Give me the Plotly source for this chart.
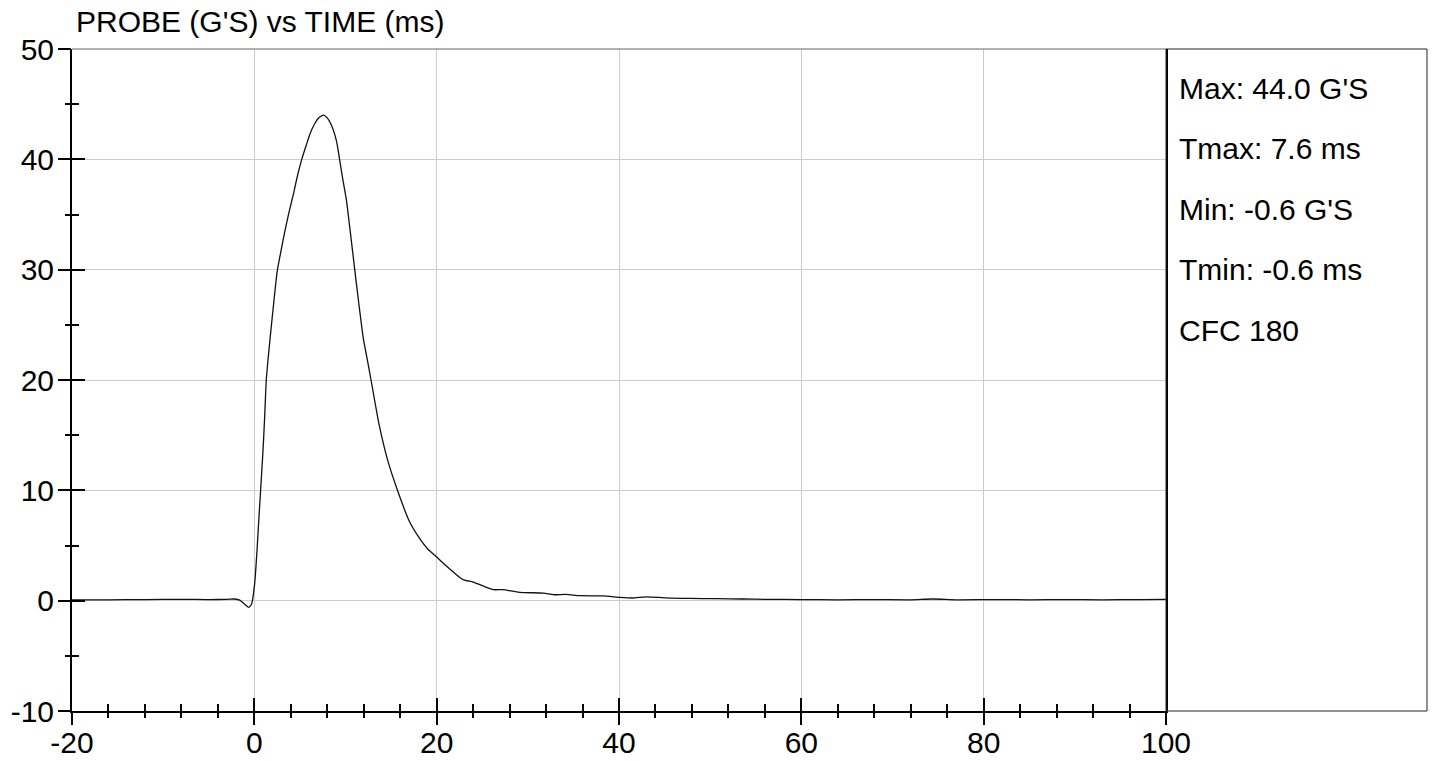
import plotly.graph_objects as go

# ---- data ----
time_ms = [-20, -16, -12, -8, -5, -3, -2.2, -1.6, -1.1, -0.63, -0.3, 0.03, 0.29, 0.51, 0.69,
           0.95, 1.13, 1.31, 1.6, 2.04, 2.5, 2.9, 3.3, 3.8, 4.3, 4.7, 5.2, 5.7, 6.1, 6.6,
           7.0, 7.3, 7.6, 7.95, 8.4, 9.0, 9.35, 9.7, 10.1, 10.5, 11.0, 11.45, 11.95, 12.4,
           12.8, 13.7, 14.6, 15.7, 17.0, 18.0, 19.0, 20.0, 21.4, 22.9, 24.0, 25.2, 26.2,
           27.3, 29.1, 31.7, 32.8, 34.2, 35.7, 38.2, 40.1, 41.5, 43.0, 45.2, 47.7, 50.7,
           53.5, 56.2, 60, 64, 68, 72, 74.4, 77, 81, 85, 89, 93, 97, 100]
probe_g = [0.08, 0.08, 0.1, 0.12, 0.1, 0.12, 0.15, 0.05, -0.3, -0.6, -0.3, 1.5, 4.5, 7.6, 10.0,
           13.6, 16.6, 20.0, 22.7, 26.3, 29.8, 31.6, 33.3, 35.2, 36.9, 38.4, 40.0, 41.3, 42.3, 43.2,
           43.7, 43.9, 44.0, 43.8, 43.2, 41.7, 40.0, 38.2, 36.3, 33.6, 30.1, 27.0, 23.8, 21.8,
           20.0, 15.9, 12.8, 10.0, 7.2, 5.8, 4.7, 3.95, 2.9, 1.9, 1.69, 1.3, 1.0,
           1.0, 0.75, 0.69, 0.54, 0.57, 0.45, 0.43, 0.3, 0.24, 0.35, 0.25, 0.2, 0.18,
           0.15, 0.12, 0.1, 0.08, 0.1, 0.08, 0.15, 0.08, 0.1, 0.08, 0.1, 0.08, 0.1, 0.12]

title_text = "PROBE (G'S) vs TIME (ms)"
x_range = [-20, 100]
y_range = [-10, 50]
x_ticks = [-20, 0, 20, 40, 60, 80, 100]
y_ticks = [-10, 0, 10, 20, 30, 40, 50]
x_tick_labels = ["-20", "0", "20", "40", "60", "80", "100"]
y_tick_labels = ["-10", "0", "10", "20", "30", "40", "50"]
cfc_label = "CFC 180"

i_max = max(range(len(probe_g)), key=lambda i: probe_g[i])
i_min = min(range(len(probe_g)), key=lambda i: probe_g[i])
stats_labels = [
    f"Max: {probe_g[i_max]:.1f} G'S",
    f"Tmax: {time_ms[i_max]:.1f} ms",
    f"Min: {probe_g[i_min]:.1f} G'S",
    f"Tmin: {time_ms[i_min]:.1f} ms",
    cfc_label,
]

FONT = "Liberation Sans, Arial, sans-serif"
FS = 30

W, H = 1433, 761
L, R, T, B = 72, 267, 49, 50
plot_w = W - L - R
plot_h = H - T - B

fig = go.Figure()
fig.add_trace(go.Scatter(x=time_ms, y=probe_g, mode="lines",
                         line=dict(color="#111111", width=1.3, shape="spline", smoothing=0.6),
                         hoverinfo="x+y", showlegend=False))
# dummy trace to activate the overlay axes (second half of the crossing ticks)
fig.add_trace(go.Scatter(x=[None], y=[None], xaxis="x2", yaxis="y2",
                         mode="lines", showlegend=False, hoverinfo="skip"))

axis_common = dict(zeroline=False, fixedrange=True, automargin=False)
tick_style = dict(ticklen=13, tickwidth=1.5, tickcolor="black")
fig.update_layout(
    width=W, height=H,
    margin=dict(l=L, r=R, t=T, b=B, autoexpand=False),
    paper_bgcolor="white", plot_bgcolor="white",
    font=dict(family=FONT, size=FS, color="black"),
    showlegend=False,
    # axes carrying labels: inside ticks (labels placed with a standoff)
    xaxis=dict(range=x_range, tickmode="array", tickvals=x_ticks, ticktext=x_tick_labels,
               showgrid=True, gridcolor="#cccccc", gridwidth=1,
               showline=True, linecolor="black", linewidth=2,
               ticks="inside", ticklabelstandoff=4, **tick_style,
               tickfont=dict(family=FONT, size=FS, color="black"),
               minor=dict(tickmode="linear", tick0=0, dtick=4, ticks="inside", ticklen=7,
                          tickwidth=1.5, tickcolor="black", showgrid=False),
               **axis_common),
    yaxis=dict(range=y_range, tickmode="array", tickvals=y_ticks, ticktext=y_tick_labels,
               showgrid=True, gridcolor="#cccccc", gridwidth=1,
               showline=True, linecolor="black", linewidth=2, mirror=True,
               ticks="inside", ticklabelstandoff=10, **tick_style,
               tickfont=dict(family=FONT, size=FS, color="black"),
               minor=dict(tickmode="linear", tick0=0, dtick=5, ticks="inside", ticklen=7,
                          tickwidth=1.5, tickcolor="black", showgrid=False),
               **axis_common),
    xaxis2=dict(range=x_range, overlaying="x", anchor="y2", side="bottom",
                tickmode="array", tickvals=x_ticks,
                showgrid=False, showline=False, showticklabels=False,
                ticks="outside", **tick_style,
                minor=dict(tickmode="linear", tick0=0, dtick=4, ticks="outside", ticklen=6,
                           tickwidth=1.5, tickcolor="black", showgrid=False),
                **axis_common),
    yaxis2=dict(range=y_range, overlaying="y", anchor="x2", side="left",
                tickmode="array", tickvals=y_ticks,
                showgrid=False, showline=False, showticklabels=False,
                ticks="outside", **tick_style,
                minor=dict(tickmode="linear", tick0=0, dtick=5, ticks="outside", ticklen=6,
                           tickwidth=1.5, tickcolor="black", showgrid=False),
                **axis_common),
)

def px_to_paper_x(px):
    return (px - L) / plot_w

def px_to_paper_y(py):
    return (H - B - py) / plot_h

# plot top border and info panel
fig.add_shape(type="line", xref="paper", yref="paper", x0=0, x1=1, y0=1, y1=1,
              line=dict(color="#666666", width=1))
fig.add_shape(type="rect", xref="paper", yref="paper",
              x0=1, x1=px_to_paper_x(1427), y0=0, y1=1,
              line=dict(color="#222222", width=1))

# title
fig.add_annotation(text=title_text, xref="paper", yref="paper",
                   x=px_to_paper_x(74), y=px_to_paper_y(22),
                   xanchor="left", yanchor="middle", showarrow=False,
                   font=dict(family=FONT, size=FS, color="black"))

# panel stats
panel_y = [88.5, 148.5, 209, 269.5, 330]
for label, py in zip(stats_labels, panel_y):
    fig.add_annotation(text=label, xref="paper", yref="paper",
                       x=px_to_paper_x(1177), y=px_to_paper_y(py),
                       xanchor="left", yanchor="middle", showarrow=False,
                       font=dict(family=FONT, size=FS, color="black"))

fig.write_html("out.html", config={"displayModeBar": False},
               post_script="document.body.style.margin='0';")
